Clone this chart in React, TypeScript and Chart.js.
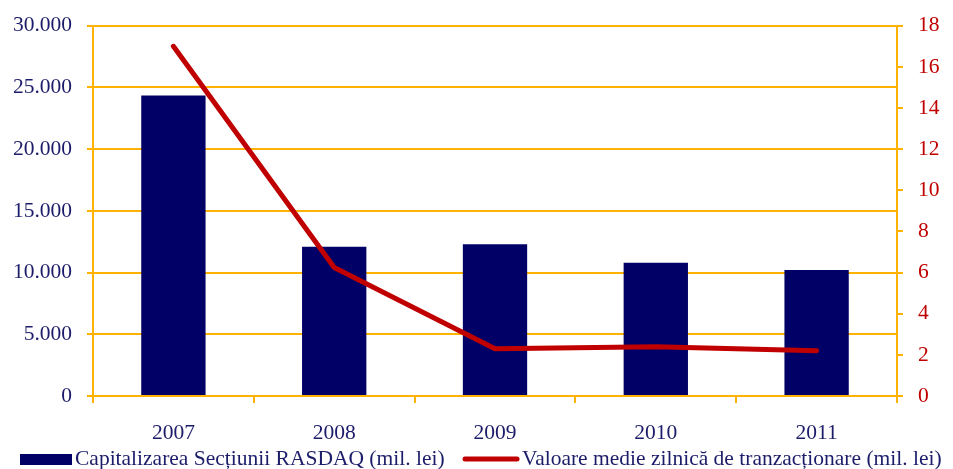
import React, { useEffect, useRef } from "react";
import { Chart, registerables } from "chart.js";

Chart.register(...registerables);

const years = ["2007", "2008", "2009", "2010", "2011"];
const capitalizare = [24350, 12100, 12300, 10800, 10200];
const valoareMedie = [17.0, 6.25, 2.3, 2.4, 2.2];
const leftTicks = [0, 5000, 10000, 15000, 20000, 25000, 30000];
const rightTicks = [0, 2, 4, 6, 8, 10, 12, 14, 16, 18];

const barLabel = "Capitalizarea Secțiunii RASDAQ (mil. lei)";
const lineLabel = "Valoare medie zilnică de tranzacționare (mil. lei)";

const NAVY = "#000066";
const RED = "#c00000";
const GRID = "#ffb300";
const TEXT = "#1c1c6a";
const FONT = "'Liberation Serif', 'DejaVu Serif', serif";
const FS = 21.5;

function fmt(v: number): string {
  return String(Math.round(v)).replace(/\B(?=(\d{3})+(?!\d))/g, ".");
}

const legendPlugin = {
  id: "customLegend",
  afterDraw(chart: any) {
    const ctx = chart.ctx;
    const y = 459;
    ctx.save();
    ctx.font = `${FS}px ${FONT}`;
    ctx.textBaseline = "middle";
    ctx.textAlign = "left";
    ctx.fillStyle = NAVY;
    ctx.fillRect(20, 454, 52, 11);
    ctx.fillStyle = TEXT;
    ctx.fillText(barLabel, 75, y);
    ctx.strokeStyle = RED;
    ctx.lineWidth = 5;
    ctx.lineCap = "round";
    ctx.beginPath();
    ctx.moveTo(465, y);
    ctx.lineTo(517, y);
    ctx.stroke();
    ctx.fillStyle = TEXT;
    ctx.fillText(lineLabel, 522, y);
    ctx.restore();
  },
};

export default function App() {
  const ref = useRef<HTMLCanvasElement | null>(null);

  useEffect(() => {
    if (!ref.current) return;
    const chart = new Chart(ref.current, {
      type: "bar",
      data: {
        labels: years,
        datasets: [
          {
            type: "line",
            label: lineLabel,
            data: valoareMedie,
            yAxisID: "y1",
            borderColor: RED,
            backgroundColor: RED,
            borderWidth: 5,
            pointRadius: 0,
            tension: 0,
            borderCapStyle: "round",
            borderJoinStyle: "round",
            order: 0,
          } as any,
          {
            type: "bar",
            label: barLabel,
            data: capitalizare,
            yAxisID: "y",
            backgroundColor: NAVY,
            barPercentage: 0.4,
            categoryPercentage: 1,
            order: 1,
          },
        ],
      },
      options: {
        animation: false,
        responsive: false,
        maintainAspectRatio: false,
        layout: { padding: { top: 24, bottom: 24, left: 0, right: 0 } },
        plugins: {
          legend: { display: false },
          tooltip: { enabled: false },
        },
        scales: {
          x: {
            grid: {
              display: true,
              drawOnChartArea: false,
              drawTicks: true,
              tickLength: 7,
              color: GRID,
              lineWidth: 2,
              offset: true,
            },
            border: { display: true, color: GRID, width: 2 },
            ticks: {
              color: TEXT,
              font: { family: FONT, size: FS },
              padding: 17,
            },
            afterFit: (s: any) => {
              s.height = 49;
            },
          },
          y: {
            position: "left",
            min: 0,
            max: 30000,
            afterBuildTicks: (s: any) => {
              s.ticks = leftTicks.map((v) => ({ value: v }));
            },
            grid: {
              color: GRID,
              lineWidth: 2,
              tickLength: 6,
            },
            border: { display: true, color: GRID, width: 2 },
            ticks: {
              color: TEXT,
              font: { family: FONT, size: FS, lineHeight: 1 },
              padding: 15,
              callback: (v: any) => fmt(Number(v)),
            },
            afterFit: (s: any) => {
              s.width = 93;
            },
          },
          y1: {
            position: "right",
            min: 0,
            max: 18,
            afterBuildTicks: (s: any) => {
              s.ticks = rightTicks.map((v) => ({ value: v }));
            },
            grid: {
              drawOnChartArea: false,
              color: GRID,
              lineWidth: 2,
              tickLength: 6,
            },
            border: { display: true, color: GRID, width: 2 },
            ticks: {
              color: RED,
              font: { family: FONT, size: FS, lineHeight: 1 },
              padding: 15,
            },
            afterFit: (s: any) => {
              s.width = 56;
            },
          },
        },
      },
      plugins: [legendPlugin],
    });
    return () => chart.destroy();
  }, []);

  return (
    <div style={{ position: "fixed", left: 0, top: 0, width: 953, height: 469, background: "#fff" }}>
      <canvas ref={ref} width={953} height={469} style={{ width: 953, height: 469 }} />
    </div>
  );
}
